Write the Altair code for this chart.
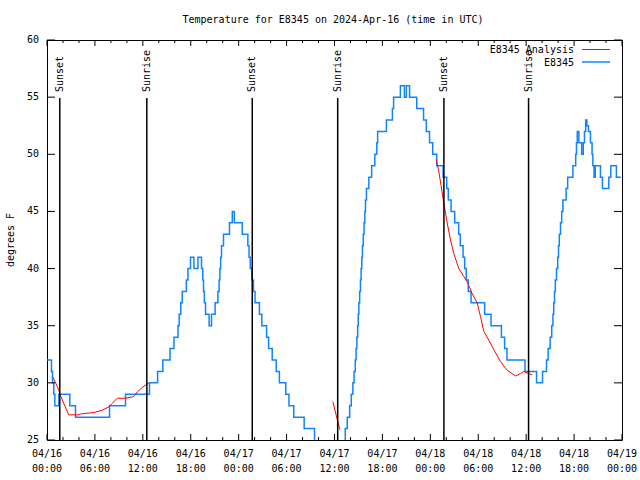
import altair as alt
import pandas as pd

TITLE = "Temperature for E8345 on 2024-Apr-16 (time in UTC)"
Y_TITLE = "degrees F"

# Observed station temperatures (hours since 04/16 00:00 UTC, degrees F), step changes
blue_hours = [0.0, 0.56, 0.69, 0.85, 0.98, 1.48, 2.86, 3.57, 7.83, 9.83, 12.83, 13.85, 14.5, 15.4,
              15.9, 16.4, 16.55, 16.75, 16.93, 17.45, 17.65, 17.97, 18.4, 18.9, 19.35, 19.5, 19.6,
              19.7, 19.85, 20.3, 20.6, 21.05, 21.4, 21.55, 21.65, 21.75, 21.85, 22.1, 22.85, 23.2,
              23.45, 24.45, 25.15, 25.3, 25.45, 25.65, 25.85, 26.05, 26.6, 26.9, 27.5, 27.75, 28.2,
              28.7, 29.1, 29.9, 30.3, 30.9, 32.2, 33.5, 37.35, 37.6, 37.9, 38.1, 38.3, 38.45, 38.6,
              38.7, 38.8, 38.9, 38.97, 39.05, 39.15, 39.25, 39.33, 39.42, 39.5, 39.6, 39.7, 39.8,
              39.88, 40.0, 40.3, 40.65, 41.05, 41.3, 41.4, 42.5, 43.25, 43.4, 44.25, 44.75, 45.0,
              45.4, 46.3, 47.15, 47.5, 47.9, 48.3, 48.8, 49.6, 50.05, 50.25, 50.6, 51.05, 51.55,
              51.75, 52.1, 52.3, 52.5, 52.75, 53.1, 54.8, 55.6, 56.9, 57.3, 57.6, 59.85, 61.3,
              62.05, 62.55, 62.75, 63.0, 63.2, 63.35, 63.45, 63.55, 63.65, 63.8, 63.95, 64.05,
              64.15, 64.3, 64.45, 64.6, 65.0, 65.2, 65.85, 66.2, 66.3, 66.4, 66.6, 66.95, 67.15,
              67.3, 67.45, 67.6, 67.8, 68.05, 68.25, 68.35, 68.5, 68.65, 69.3, 69.55, 70.35, 70.6,
              71.3, 71.85]
blue_temps = [32, 31, 30, 29, 28, 29, 28, 27, 28, 29, 30, 31, 32, 33,
              34, 35, 36, 37, 38, 39, 40, 41, 40, 41, 40, 39, 38,
              37, 36, 35, 36, 37, 38, 39, 40, 41, 42, 43, 44, 45,
              44, 43, 42, 41, 40, 39, 38, 37, 36, 35, 34, 33, 32,
              31, 30, 29, 28, 27, 26, 24, 26, 27, 28, 29, 30, 31, 32,
              33, 34, 35, 36, 37, 38, 39, 40, 41, 42, 43, 44, 45,
              46, 47, 48, 49, 50, 51, 52, 53, 54, 55, 56, 55, 56,
              55, 54, 53, 52, 51, 50, 49, 48, 47, 46, 45, 44, 43,
              42, 41, 40, 39, 38, 37, 36, 35, 34, 33, 32, 31, 30,
              31, 32, 33, 34, 35, 36, 37, 38, 39, 40, 41, 42,
              43, 44, 45, 46, 47, 48, 49, 50, 51, 52, 51, 50, 51,
              52, 53, 52.5, 52, 51, 50, 49, 48, 49, 48, 47, 48, 49,
              48, 48]

# Analysis curve, three separate pieces
red_hours = [0.73, 1.28, 1.69, 2.1, 2.73, 3.78, 4.4, 5.86, 6.9, 7.74, 8.16, 8.79, 9.83, 10.87,
             11.3, 11.92, 12.75,
             35.79, 36.67,
             48.73, 49.06, 49.36, 49.69, 50.11, 50.53, 50.94, 51.57, 52.19, 52.62, 53.24, 53.87,
             54.28, 54.7, 55.32, 55.95, 56.79, 57.63, 58.67, 59.29, 59.7, 60.33, 60.76]
red_temps = [30.5, 29.7, 28.9, 28.2, 27.2, 27.2, 27.3, 27.4, 27.6, 27.9, 28.2, 28.65, 28.65, 28.8,
             29.2, 29.6, 30.0,
             28.35, 25.9,
             49.55, 48.5, 47.2, 45.7, 44.0, 42.5, 41.3, 40.0, 39.3, 38.85, 37.8, 37.0,
             35.8, 34.5, 33.75, 32.9, 31.85, 31.1, 30.6, 30.8, 31.0, 30.8, 30.7]
red_piece = ["a"] * 17 + ["b"] * 2 + ["c"] * 23

sun_hours = [1.6, 12.5, 25.7, 36.4, 49.7, 60.3]
sun_labels = ["Sunset", "Sunrise", "Sunset", "Sunrise", "Sunset", "Sunrise"]

major_hours = [0, 6, 12, 18, 24, 30, 36, 42, 48, 54, 60, 66, 72]
date_labels = ["04/16", "04/16", "04/16", "04/16", "04/17", "04/17", "04/17", "04/17",
               "04/18", "04/18", "04/18", "04/18", "04/19"]
time_labels = ["00:00", "06:00", "12:00", "18:00", "00:00", "06:00", "12:00", "18:00",
               "00:00", "06:00", "12:00", "18:00", "00:00"]
minor_hours = [2, 4, 8, 10, 14, 16, 20, 22, 26, 28, 32, 34, 38, 40, 44, 46, 50, 52, 56, 58,
               62, 64, 68, 70]
y_ticks = [25, 30, 35, 40, 45, 50, 55, 60]
y_labels = ["25", "30", "35", "40", "45", "50", "55", "60"]

legend_labels = ["E8345 Analysis", "E8345"]
RED = "#ff0000"
BLUE = "#1084ff"

W, H = 575, 400
FONT = "DejaVu Sans Mono"
FS = 10

xs = alt.Scale(domain=[0, 72], nice=False, zero=False)
ys = alt.Scale(domain=[25, 60], nice=False, zero=False)

blue_df = pd.DataFrame({"h": blue_hours, "t": blue_temps})
red_df = pd.DataFrame({"h": red_hours, "t": red_temps, "piece": red_piece})
sun_df = pd.DataFrame({"h": sun_hours, "label": sun_labels})
major_df = pd.DataFrame({"h": major_hours, "d": date_labels, "tm": time_labels})
minor_df = pd.DataFrame({"h": minor_hours})
yt_df = pd.DataFrame({"t": y_ticks, "lab": y_labels})

X = alt.X("h:Q", scale=xs, axis=None)
Y = alt.Y("t:Q", scale=ys, axis=None)

blue = alt.Chart(blue_df).mark_line(interpolate="step-after", color=BLUE, strokeWidth=1.5,
                                    clip=True).encode(x=X, y=Y)
red = alt.Chart(red_df).mark_line(color=RED, strokeWidth=1, clip=True).encode(
    x=X, y=Y, detail="piece:N")

sun_rules = alt.Chart(sun_df).mark_rule(color="black", strokeWidth=1.5).encode(
    x=X, y=alt.value(58), y2=alt.value(H))
sun_text = alt.Chart(sun_df).mark_text(angle=270, align="left", baseline="middle", font=FONT,
                                       fontSize=FS, color="black").encode(
    x=X, y=alt.value(52), text="label:N")

maj_bot = alt.Chart(major_df).mark_rule(color="black", strokeWidth=1).encode(
    x=X, y=alt.value(H), y2=alt.value(H - 6))
maj_top = alt.Chart(major_df).mark_rule(color="black", strokeWidth=1).encode(
    x=X, y=alt.value(0), y2=alt.value(6))
min_bot = alt.Chart(minor_df).mark_rule(color="black", strokeWidth=1).encode(
    x=X, y=alt.value(H), y2=alt.value(H - 3))
min_top = alt.Chart(minor_df).mark_rule(color="black", strokeWidth=1).encode(
    x=X, y=alt.value(0), y2=alt.value(3))
date_txt = alt.Chart(major_df).mark_text(font=FONT, fontSize=FS, baseline="middle",
                                         color="black").encode(
    x=X, y=alt.value(H + 14), text="d:N")
time_txt = alt.Chart(major_df).mark_text(font=FONT, fontSize=FS, baseline="middle",
                                         color="black").encode(
    x=X, y=alt.value(H + 29), text="tm:N")

yt_left = alt.Chart(yt_df).mark_rule(color="black", strokeWidth=1).encode(
    y=Y, x=alt.value(0), x2=alt.value(8))
yt_right = alt.Chart(yt_df).mark_rule(color="black", strokeWidth=1).encode(
    y=Y, x=alt.value(W), x2=alt.value(W - 8))
y_txt = alt.Chart(yt_df).mark_text(font=FONT, fontSize=FS, align="right", baseline="middle",
                                   color="black").encode(
    y=Y, x=alt.value(-8), text="lab:N")

title_df = pd.DataFrame({"s": [TITLE]})
title_txt = alt.Chart(title_df).mark_text(font=FONT, fontSize=FS, baseline="middle",
                                          align="center", color="black").encode(
    x=alt.value(286), y=alt.value(-20), text="s:N")
ytitle_df = pd.DataFrame({"s": [Y_TITLE]})
ytitle_txt = alt.Chart(ytitle_df).mark_text(font=FONT, fontSize=FS, baseline="middle",
                                            align="center", angle=270, color="black").encode(
    x=alt.value(-36), y=alt.value(200), text="s:N")

leg1_df = pd.DataFrame({"s": [legend_labels[0]]})
leg2_df = pd.DataFrame({"s": [legend_labels[1]]})
leg1_txt = alt.Chart(leg1_df).mark_text(font=FONT, fontSize=FS, baseline="middle",
                                        align="right", color="black").encode(
    x=alt.value(527), y=alt.value(10), text="s:N")
leg2_txt = alt.Chart(leg2_df).mark_text(font=FONT, fontSize=FS, baseline="middle",
                                        align="right", color="black").encode(
    x=alt.value(527), y=alt.value(23), text="s:N")
leg1_line = alt.Chart(leg1_df).mark_rule(color=RED, strokeWidth=1).encode(
    x=alt.value(535), x2=alt.value(563), y=alt.value(9.5))
leg2_line = alt.Chart(leg2_df).mark_rule(color=BLUE, strokeWidth=1.5).encode(
    x=alt.value(535), x2=alt.value(563), y=alt.value(22))

chart = alt.layer(
    blue, red, sun_rules, sun_text,
    maj_bot, maj_top, min_bot, min_top, date_txt, time_txt,
    yt_left, yt_right, y_txt, title_txt, ytitle_txt,
    leg1_txt, leg2_txt, leg1_line, leg2_line,
).properties(
    width=W, height=H,
    padding={"left": 47, "top": 40, "right": 18, "bottom": 40},
    autosize=alt.AutoSizeParams(type="none"),
).configure(background="white").configure_view(stroke="black", strokeWidth=1)

chart.save("out.html", embed_options={"renderer": "svg", "actions": False})
